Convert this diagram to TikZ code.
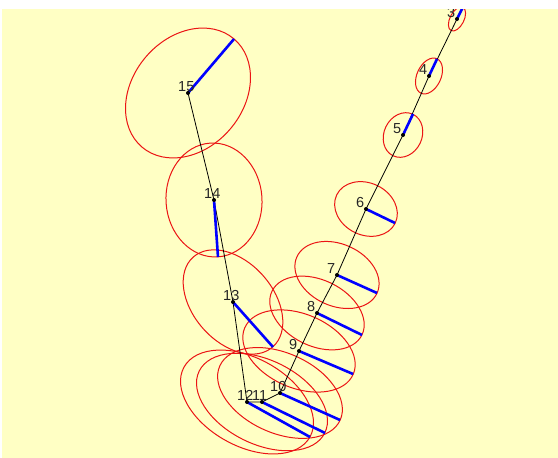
\documentclass[tikz,border=0pt]{standalone}
\usepackage{fontspec}
\setmainfont{Liberation Sans}
\definecolor{bgyellow}{RGB}{255,255,196}
\definecolor{ellred}{RGB}{235,20,20}
\definecolor{axblue}{RGB}{0,0,255}
\tikzset{
  ell/.style={draw=ellred, line width=1pt},
  pathline/.style={draw=black, line width=0.8pt},
  axis/.style={draw=axblue, line width=2.6pt},
  dot/.style={circle, fill=black, inner sep=0pt, minimum size=4pt},
  lbl/.style={anchor=south west, inner sep=0pt, font=\fontsize{14.5}{14.5}\selectfont, text=black!85}
}
\begin{document}
\begin{tikzpicture}[x=1pt,y=-1pt]
\useasboundingbox (0,0) rectangle (558,458);
\fill[white] (0,0) rectangle (558,458);
\fill[bgyellow] (2,9) rectangle (558,458);
\begin{scope}
\clip (2,9) rectangle (558,458);
% centres
\coordinate (c3) at (457,19);
\coordinate (c4) at (429,76);
\coordinate (c5) at (403,135);
\coordinate (c6) at (366,209);
\coordinate (c7) at (337,275);
\coordinate (c8) at (317,313);
\coordinate (c9) at (299,351);
\coordinate (c10) at (280,393);
\coordinate (c11) at (262,402);
\coordinate (c12) at (247,402);
\coordinate (c13) at (233,302);
\coordinate (c14) at (214,200);
\coordinate (c15) at (188,93);
% axis ends
\coordinate (e3) at (463,7);
\coordinate (e4) at (437,59);
\coordinate (e5) at (413,114);
\coordinate (e6) at (395,223);
\coordinate (e7) at (377,293);
\coordinate (e8) at (362,335);
\coordinate (e9) at (353,374);
\coordinate (e10) at (340,420);
\coordinate (e11) at (325,433);
\coordinate (e12) at (310,437);
\coordinate (e13) at (273,347);
\coordinate (e14) at (218,257);
\coordinate (e15) at (234,39);
% ellipses
\draw[ell, rotate around={63:(c3)}] (c3) ellipse [x radius=13, y radius=7];
\draw[ell, rotate around={65:(c4)}] (c4) ellipse [x radius=19, y radius=12];
\draw[ell, rotate around={64.5:(c5)}] (c5) ellipse [x radius=23, y radius=19];
\draw[ell, rotate around={-25.8:(c6)}] (c6) ellipse [x radius=32.5, y radius=26];
\draw[ell, rotate around={-24.2:(c7)}] (c7) ellipse [x radius=44, y radius=31];
\draw[ell, rotate around={-26:(c8)}] (c8) ellipse [x radius=50, y radius=33];
\draw[ell, rotate around={-23:(c9)}] (c9) ellipse [x radius=59, y radius=37];
\draw[ell, rotate around={-24.2:(c10)}] (c10) ellipse [x radius=66, y radius=40];
\draw[ell, rotate around={-26.2:(c11)}] (c11) ellipse [x radius=70, y radius=42];
\draw[ell, rotate around={-29:(c12)}] (c12) ellipse [x radius=72, y radius=44];
\draw[ell, rotate around={-48.4:(c13)}] (c13) ellipse [x radius=60, y radius=40];
\draw[ell, rotate around={-86:(c14)}] (c14) ellipse [x radius=57, y radius=48];
\draw[ell, rotate around={49.6:(c15)}] (c15) ellipse [x radius=71, y radius=55.5];
% path
\draw[pathline] (c3) -- (c4) -- (c5) -- (c6) -- (c7) -- (c8) -- (c9) -- (c10) -- (c11) -- (c12) -- (c13) -- (c14) -- (c15);
% axes
\foreach \i in {3,...,15} { \draw[axis] (c\i) -- (e\i); }
% dots and labels
\foreach \i in {3,...,15} {
  \node[dot] (n\i) at (c\i) {};
  \node[lbl] (l\i) at ([shift={(-10,-1)}]c\i) {\i};
}
\end{scope}
\end{tikzpicture}
\end{document}
